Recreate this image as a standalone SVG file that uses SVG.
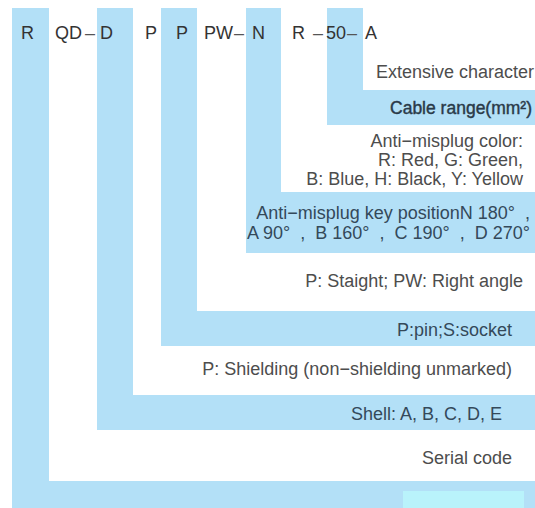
<svg xmlns="http://www.w3.org/2000/svg" width="535" height="508" viewBox="0 0 535 508">
<style>
.band{fill:#b3e0f7}
.code{font-family:"Liberation Sans",Arial,sans-serif;font-size:18px;fill:#333}
.dash{font-family:"Liberation Sans",Arial,sans-serif;font-size:18px;fill:#555}
.lbl{font-family:"Liberation Sans",Arial,sans-serif;font-size:18px;fill:#4d4d4d;text-anchor:end;white-space:pre}
.on{fill:#34495a}
.semi{font-size:17.5px;fill:#2a3a48;stroke:#2a3a48;stroke-width:0.4}
</style>
<rect width="535" height="508" fill="#ffffff"/>
<g id="serial-code">
<path class="band" d="M12 8H49V481H535V508H12Z"/>
<rect x="403" y="491" width="121" height="17" fill="#b9f3fb"/>
<text class="lbl" x="512" y="464">Serial code</text>
</g>
<g id="shell">
<path class="band" d="M97 8H133V395H535V430H97Z"/>
<text class="lbl on" x="502" y="420">Shell: A, B, C, D, E</text>
</g>
<g id="shielding">
<text class="lbl" x="512" y="375">P: Shielding (non−shielding unmarked)</text>
</g>
<g id="pin-socket">
<path class="band" d="M161 8H197V311H535V346H161Z"/>
<text class="lbl on" x="512" y="336">P:pin;S:socket</text>
</g>
<g id="orientation">
<text class="lbl" x="523" y="287">P: Staight; PW: Right angle</text>
</g>
<g id="key-position">
<path class="band" d="M246 8H281V192H535V253H246Z"/>
<text class="lbl on" x="530" y="219" xml:space="preserve">Anti−misplug key positionN 180°  ,</text>
<text class="lbl on" x="530" y="239" xml:space="preserve">A 90°  ,  B 160°  ,  C 190°  ,  D 270°</text>
</g>
<g id="color">
<text class="lbl" x="523" y="147">Anti−misplug color:</text>
<text class="lbl" x="523" y="166">R: Red, G: Green,</text>
<text class="lbl" x="523" y="185">B: Blue, H: Black, Y: Yellow</text>
</g>
<g id="cable-range">
<path class="band" d="M327 8H363V90H535V125H327Z"/>
<text class="lbl semi" x="532" y="114">Cable range(mm²)</text>
</g>
<g id="extensive">
<text class="lbl" x="534" y="78">Extensive character</text>
</g>
<g id="code">
<text class="code" x="21" y="39">R</text>
<text class="code" x="55" y="39">QD</text>
<text class="dash" x="85" y="39">–</text>
<text class="code" x="100" y="39">D</text>
<text class="code" x="145" y="39">P</text>
<text class="code" x="176" y="39">P</text>
<text class="code" x="204" y="39">PW</text>
<text class="dash" x="234" y="39">–</text>
<text class="code" x="252" y="39">N</text>
<text class="code" x="292" y="39">R</text>
<text class="dash" x="313" y="39">–</text>
<text class="code" x="326" y="39">50</text>
<text class="dash" x="347" y="39">–</text>
<text class="code" x="365" y="39">A</text>
</g>
</svg>
